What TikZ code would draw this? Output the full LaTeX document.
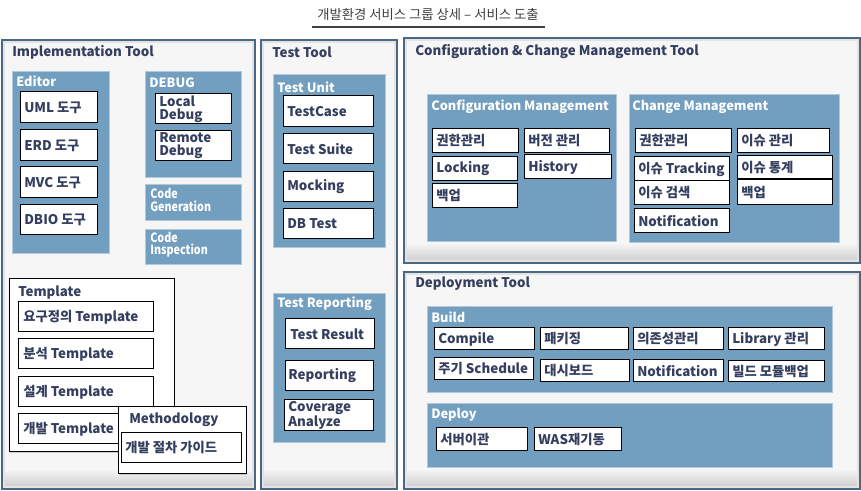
\documentclass[tikz,border=0pt]{standalone}
\usepackage{fontspec}
\setmainfont{Noto Sans CJK KR}
\newfontfamily\condfont{Noto Sans CJK KR}[FakeStretch=0.84]
\usetikzlibrary{shadows}

\definecolor{panelline}{RGB}{74,103,131}
\definecolor{panelfill}{RGB}{246,246,246}
\definecolor{boxblue}{RGB}{114,158,191}
\definecolor{boxedge}{RGB}{176,200,218}
\definecolor{navy}{RGB}{52,62,94}
\definecolor{titlegray}{RGB}{64,64,64}

\newcommand{\tboxfont}{\fontsize{10}{9.8}\selectfont\bfseries}
\newcommand{\headfont}{\fontsize{9.6}{9.6}\selectfont\bfseries}

\tikzset{
  panelglow/.style={draw=gray!22, line width=2pt},
  panelrim/.style={draw=panelline, line width=1.2pt},
  bbox/.style={fill=boxblue, draw=boxedge, line width=0.6pt,
    drop shadow={opacity=0.3, shadow xshift=1pt, shadow yshift=-1pt}},
  wbox/.style={fill=white, draw=black, line width=0.75pt},
  wtxt/.style={anchor=west, inner sep=0pt, text=navy, font=\tboxfont, align=left},
  ptitle/.style={anchor=west, inner sep=0pt, text=navy, font=\tboxfont},
  bhead/.style={anchor=west, inner sep=0pt, text=white, font=\headfont, align=left},
  condhead/.style={bhead, font=\condfont\fontsize{9.6}{9.2}\selectfont\bfseries}
}

\begin{document}
\begin{tikzpicture}[x=0.75pt, y=-0.75pt]
\useasboundingbox (0,0) rectangle (861,491);

% title
\node[font=\fontsize{10}{12}\selectfont, text=titlegray] (title) at (428,14) {개발환경 서비스 그룹 상세 – 서비스 도출};
\coordinate (ulleft) at (312,27);
\coordinate (ulright) at (545,27);
\draw[titlegray, line width=1.1pt] (ulleft) -- (ulright);

% the four tool panels
\foreach \xa/\ya/\xb/\yb in {2/40/255/489, 261/40/397/489, 404/38/860/263, 404/272/860/489} {
  \fill[panelfill] (\xa,\ya) rectangle (\xb,\yb);
  \shade[top color=panelfill, bottom color=gray!42] (\xa,\yb-20) rectangle (\xb,\yb);
  \draw[panelglow] (\xa+2,\ya+2) rectangle (\xb-2,\yb-2);
  \draw[panelrim] (\xa,\ya) rectangle (\xb,\yb);
}
\node[ptitle] (impl) at (12,52) {Implementation Tool};
\node[ptitle] (test) at (272,52) {Test Tool};
\node[ptitle] (conf) at (415,52) {Configuration \& Change Management Tool};
\node[ptitle] (deploy) at (415,284) {Deployment Tool};

% Implementation Tool
\draw[bbox] (12,71) rectangle (109,253);
\node[bhead] (editor) at (16,81) {Editor};
\draw[bbox] (145,71) rectangle (241,177);
\node[bhead] (debug) at (149,83) {DEBUG};
\draw[bbox] (145,184) rectangle (241,220);
\node[condhead] (codegen) at (150,200) {Code\\Generation};
\draw[bbox] (145,229) rectangle (241,264);
\node[condhead] (codeins) at (150,245) {Code\\Inspection};

\foreach \n/\xa/\ya/\xb/\yb/\t in {uml/20/92/97/123/UML 도구, erd/20/130/97/161/ERD 도구,
    mvc/20/167/97/198/MVC 도구, dbio/20/205/97/235/DBIO 도구} {
  \draw[wbox] (\xa,\ya) rectangle (\xb,\yb);
  \node[wtxt] (\n) at (\xa+4,{(\ya+\yb)/2}) {\t};
}
\draw[wbox] (155,94) rectangle (231,124);
\node[wtxt] (localdbg) at (159,109) {Local\\Debug};
\draw[wbox] (155,131) rectangle (231,161);
\node[wtxt] (remotedbg) at (159,146) {Remote\\Debug};

\draw[wbox, drop shadow={opacity=0.35, shadow xshift=1pt, shadow yshift=-1pt}] (9,279) rectangle (174,452);
\node[ptitle] (template) at (18,293) {Template};
\foreach \n/\xa/\ya/\xb/\yb/\t in {reqtpl/18/302/153/332/요구정의 Template, anatpl/18/339/153/369/분석 Template,
    destpl/18/377/153/407/설계 Template, devtpl/18/414/153/444/개발 Template} {
  \draw[wbox] (\xa,\ya) rectangle (\xb,\yb);
  \node[wtxt] (\n) at (\xa+5,{(\ya+\yb)/2}) {\t};
}
\draw[wbox, drop shadow={opacity=0.35, shadow xshift=1pt, shadow yshift=-1pt}] (118,407) rectangle (246,474);
\node[ptitle] (method) at (129,420) {Methodology};
\draw[wbox] (121,433) rectangle (241,463);
\node[wtxt] (guide) at (125,448) {개발 절차 가이드};

% Test Tool
\draw[bbox] (273,74) rectangle (385,247);
\node[bhead] (testunit) at (277,87) {Test Unit};
\foreach \n/\xa/\ya/\xb/\yb/\t in {testcase/283/96/373/127/TestCase, suite/283/134/373/164/Test Suite,
    mocking/283/172/373/202/Mocking, dbtest/283/209/373/239/DB Test} {
  \draw[wbox] (\xa,\ya) rectangle (\xb,\yb);
  \node[wtxt] (\n) at (\xa+4,{(\ya+\yb)/2}) {\t};
}
\draw[bbox] (273,293) rectangle (385,442);
\node[bhead] (testrep) at (277,304) {Test Reporting};
\draw[wbox] (285,319) rectangle (374,349);
\node[wtxt] (result) at (290,334) {Test Result};
\draw[wbox] (285,361) rectangle (373,391);
\node[wtxt] (reporting) at (288,376) {Reporting};
\draw[wbox] (284,400) rectangle (373,431);
\node[wtxt] (coverage) at (288,415) {Coverage\\Analyze};

% Configuration & Change Management Tool
\draw[bbox] (427,94) rectangle (616,241);
\node[bhead] (confmgmt) at (431,107) {Configuration Management};
\draw[bbox] (629,94) rectangle (839,242);
\node[bhead] (chgmgmt) at (632,107) {Change Management};
\foreach \n/\xa/\ya/\xb/\yb/\t in {cfauth/432/129/518/153/권한관리, cflock/432/157/517/181/Locking,
    cfbackup/432/184/517/208/백업, cfver/524/129/609/153/버전 관리, cfhist/524/155/611/179/History,
    chauth/635/129/731/153/권한관리, chtrack/634/157/729/181/이슈 Tracking, chfind/634/181/729/205/이슈 검색,
    chnotify/634/209/729/233/Notification, chissue/737/129/829/153/이슈 관리, chstat/737/156/832/179/이슈 통계,
    chbackup/737/180/832/205/백업} {
  \draw[wbox] (\xa,\ya) rectangle (\xb,\yb);
  \node[wtxt] (\n) at (\xa+4,{(\ya+\yb)/2}) {\t};
}

% Deployment Tool
\draw[bbox] (427,306) rectangle (832,392);
\node[bhead] (build) at (431,317) {Build};
\draw[bbox] (427,403) rectangle (832,467);
\node[bhead] (deploybox) at (431,415) {Deploy};
\foreach \n/\xa/\ya/\xb/\yb/\t in {compile/434/328/534/350/Compile, pack/540/328/628/350/패키징,
    depend/633/328/723/350/의존성관리, library/728/328/824/350/Library 관리,
    sched/434/358/533/380/주기 Schedule, dash/540/360/629/382/대시보드,
    bnotify/633/360/723/382/Notification, modback/728/361/824/382/빌드 모듈백업,
    server/436/428/527/451/서버이관, wasre/534/428/621/451/WAS재기동} {
  \draw[wbox] (\xa,\ya) rectangle (\xb,\yb);
  \node[wtxt] (\n) at (\xa+4,{(\ya+\yb)/2}) {\t};
}
\end{tikzpicture}
\end{document}
